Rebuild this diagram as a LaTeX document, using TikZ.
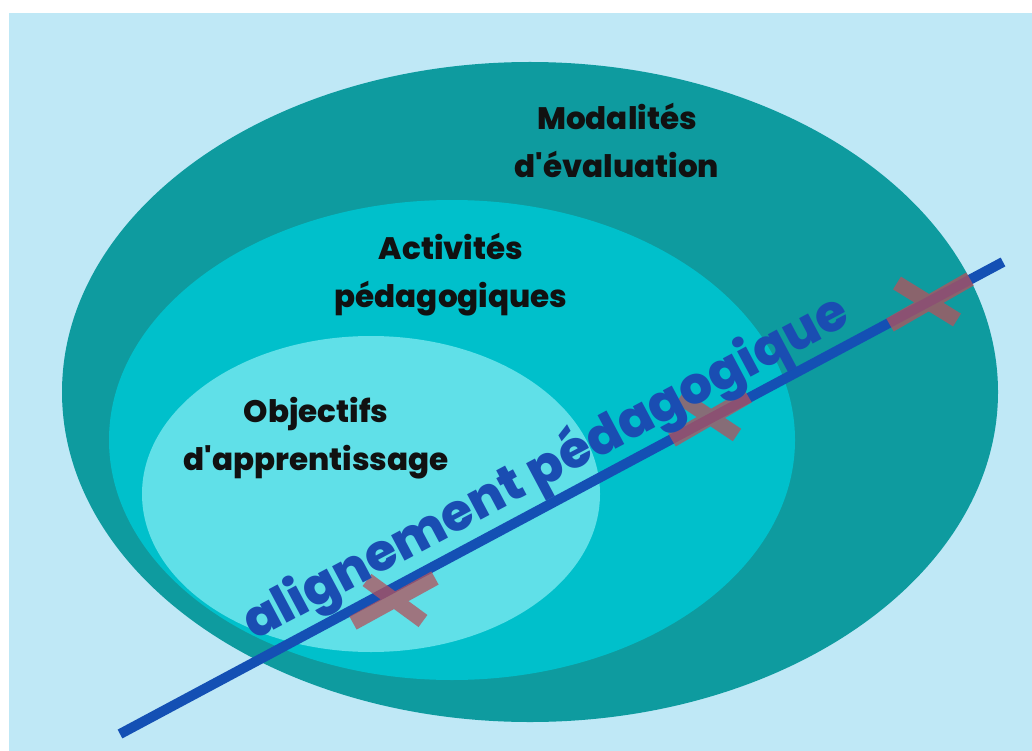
\documentclass[tikz,border=0pt]{standalone}
\usepackage{fontspec}
\setmainfont{Poppins}[Ligatures=TeXOff, BoldFont={Poppins ExtraBold}]
\definecolor{bgblue}{HTML}{BFE8F6}
\definecolor{outerteal}{HTML}{0E9B9F}
\definecolor{midcyan}{HTML}{00C0CB}
\definecolor{innercyan}{HTML}{60E0E8}
\definecolor{lineblue}{HTML}{1450B4}
\definecolor{textblue}{HTML}{1A4DB2}
\definecolor{crossred}{HTML}{B4525C}
\definecolor{labelblack}{HTML}{111111}
\tikzset{
  zonelabel/.style={align=center, text=labelblack, inner sep=0pt,
    font=\bfseries\fontsize{31}{48}\selectfont},
  mainline/.style={line width=10pt, draw=lineblue, line cap=butt},
  crossmark/.style={line width=15pt, draw=crossred, draw opacity=0.75, line cap=butt},
}
\begin{document}
\begin{tikzpicture}[x=1pt,y=-1pt]
\useasboundingbox (0,0) rectangle (1032,751);
\fill[white] (0,0) rectangle (1032,751);
\fill[bgblue] (9,13) rectangle (1032,751);
% nested ellipses
\fill[outerteal] (530,392) ellipse [x radius=468pt, y radius=330pt];
\fill[midcyan] (452,440) ellipse [x radius=343pt, y radius=240pt];
\fill[innercyan] (371,494) ellipse [x radius=229pt, y radius=158pt];
% labels
\node[zonelabel] (modal) at (617,140) {Modalités\\d'évaluation};
\node[zonelabel] (activ) at (451,275) {Activités\\pédagogiques};
\node[zonelabel] (objec) at (316,438) {Objectifs\\d'apprentissage};
% alignment line
\coordinate (L1) at (120,734);
\coordinate (L2) at (1003,262);
\draw[mainline] (L1) -- (L2);
% crosses
\draw[crossmark] (353,623) -- (435,578) (367,580) -- (423,621);
\draw[crossmark] (672,440) -- (748,396) (680,397) -- (737,435);
\draw[crossmark] (890,325) -- (970,279) (897,283) -- (957,320);
% rotated title
\node[rotate=28, anchor=base, text=textblue, inner sep=0pt,
  font=\bfseries\fontsize{51.3}{60}\selectfont] (align) at (553,482) {alignement pédagogique};
\end{tikzpicture}
\end{document}
